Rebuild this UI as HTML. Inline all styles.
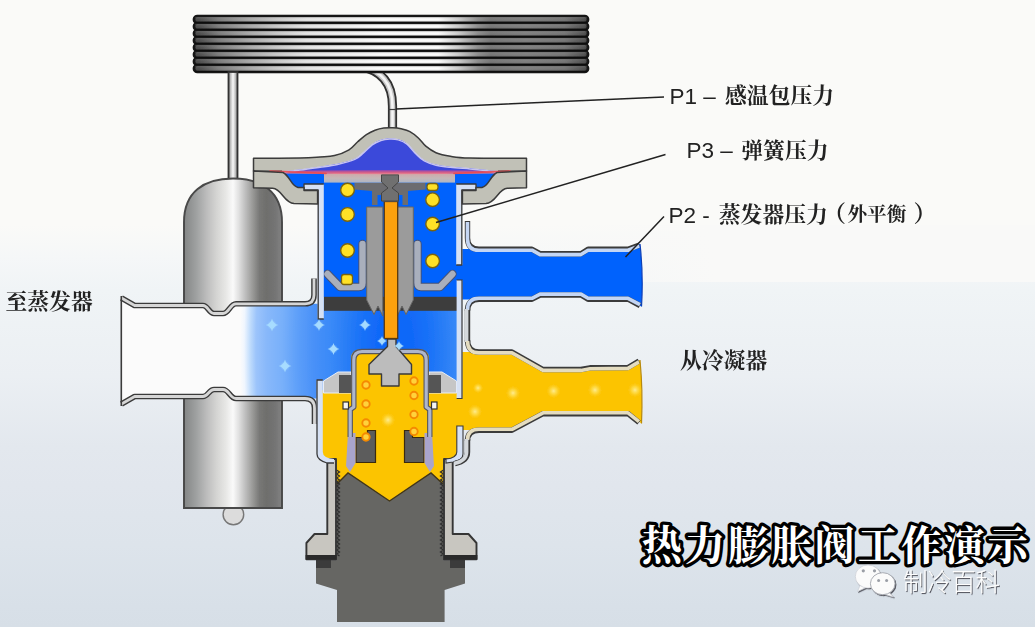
<!DOCTYPE html>
<html lang="zh"><head><meta charset="utf-8"><title>热力膨胀阀工作演示</title>
<style>
html,body{margin:0;padding:0;background:#fafaf8;}
#stage{position:relative;width:1035px;height:627px;overflow:hidden;
background:linear-gradient(to bottom,#fafaf8 0px,#fafaf8 225px,#f5f7f8 258px,#f0f4f6 290px,#ebeff3 376px,#e3e8ee 446px,#e1e6ed 486px,#dde4eb 545px,#d8e0e8 606px,#d7dfe7 627px);}
svg{position:absolute;left:0;top:0;display:block}
#lite{position:absolute;left:500px;top:225px;width:535px;height:57px;background:linear-gradient(to right,rgba(249,249,248,0) 0,rgba(249,249,248,1) 40%);}
</style></head><body>
<div id="stage">
<div id="lite"></div>
<svg width="1035" height="627" viewBox="0 0 1035 627">
<defs>
<linearGradient id="coilH" x1="0" x2="1" y1="0" y2="0">
<stop offset="0" stop-color="#4a4a4a"/><stop offset="0.02" stop-color="#565656"/><stop offset="0.064" stop-color="#808080"/><stop offset="0.137" stop-color="#aaaaaa"/>
<stop offset="0.21" stop-color="#cccccc"/><stop offset="0.285" stop-color="#e8e8e8"/><stop offset="0.384" stop-color="#f4f4f4"/><stop offset="0.48" stop-color="#ffffff"/>
<stop offset="0.62" stop-color="#ffffff"/><stop offset="0.67" stop-color="#d0d0d0"/><stop offset="0.72" stop-color="#909090"/><stop offset="0.753" stop-color="#787878"/>
<stop offset="0.842" stop-color="#828282"/><stop offset="0.94" stop-color="#787878"/><stop offset="0.99" stop-color="#555555"/><stop offset="1" stop-color="#444444"/>
</linearGradient>
<linearGradient id="tubeV" x1="0" x2="0" y1="0" y2="1">
<stop offset="0" stop-color="#000" stop-opacity="0.0"/><stop offset="0.2" stop-color="#fff" stop-opacity="0.15"/>
<stop offset="0.55" stop-color="#000" stop-opacity="0.0"/><stop offset="0.9" stop-color="#000" stop-opacity="0.18"/><stop offset="1" stop-color="#000" stop-opacity="0.18"/>
</linearGradient>
<pattern id="tubes" x="194" y="16" width="393" height="7" patternUnits="userSpaceOnUse">
<rect x="0" y="0" width="393" height="7" fill="url(#tubeV)"/>
</pattern>
<linearGradient id="bulbG" x1="0" x2="1" y1="0" y2="0">
<stop offset="0" stop-color="#848686"/><stop offset="0.04" stop-color="#8c8e8e"/><stop offset="0.13" stop-color="#a0a2a2"/><stop offset="0.23" stop-color="#bcbcbc"/>
<stop offset="0.33" stop-color="#d4d4d2"/><stop offset="0.43" stop-color="#e8e8e6"/><stop offset="0.50" stop-color="#fafafa"/><stop offset="0.56" stop-color="#e0e0e0"/>
<stop offset="0.63" stop-color="#bcbcbc"/><stop offset="0.70" stop-color="#9a9a98"/><stop offset="0.77" stop-color="#787876"/><stop offset="0.84" stop-color="#6e6e6c"/>
<stop offset="0.93" stop-color="#747474"/><stop offset="1" stop-color="#828282"/>
</linearGradient>
<linearGradient id="thinTube" x1="0" x2="1" y1="0" y2="0">
<stop offset="0" stop-color="#8a8a8a"/><stop offset="0.5" stop-color="#fafafa"/><stop offset="1" stop-color="#8a8a8a"/>
</linearGradient>
<radialGradient id="outG" gradientUnits="userSpaceOnUse" cx="0" cy="0" r="1" gradientTransform="translate(395 350) scale(155 420)">
<stop offset="0" stop-color="#0868fa"/><stop offset="0.11" stop-color="#1068f8"/><stop offset="0.226" stop-color="#1a72f8"/><stop offset="0.32" stop-color="#2a7ef6"/>
<stop offset="0.42" stop-color="#3a8af8"/><stop offset="0.52" stop-color="#4890f8"/><stop offset="0.626" stop-color="#5c9ef9"/><stop offset="0.73" stop-color="#78b0fa"/>
<stop offset="0.83" stop-color="#88b8fa"/><stop offset="0.897" stop-color="#9cc4fb"/><stop offset="0.935" stop-color="#c0dcfc"/><stop offset="0.974" stop-color="#f0f6fe"/><stop offset="1" stop-color="#fbfbfb"/>
</radialGradient>
<linearGradient id="diaG" x1="0" x2="0" y1="0" y2="1">
<stop offset="0" stop-color="#8a48b8"/><stop offset="0.5" stop-color="#d05a88"/><stop offset="1" stop-color="#ec8a92"/>
</linearGradient>
<linearGradient id="plateG" x1="0" x2="0" y1="0" y2="1"><stop offset="0" stop-color="#cfa9a9"/><stop offset="0.5" stop-color="#c4b8b8"/><stop offset="1" stop-color="#aeb6c6"/></linearGradient>
<radialGradient id="spark"><stop offset="0" stop-color="#fff" stop-opacity="0.95"/><stop offset="0.5" stop-color="#bfe4ff" stop-opacity="0.7"/><stop offset="1" stop-color="#8cc8ff" stop-opacity="0"/></radialGradient>
<radialGradient id="sparkY"><stop offset="0" stop-color="#fff0a0" stop-opacity="0.9"/><stop offset="0.5" stop-color="#ffe25a" stop-opacity="0.6"/><stop offset="1" stop-color="#ffd030" stop-opacity="0"/></radialGradient>
<filter id="ds" x="-10%" y="-10%" width="125%" height="130%"><feDropShadow dx="1" dy="1.1" stdDeviation="0.45" flood-color="#3c3c44" flood-opacity="0.85"/></filter>
<filter id="blur" x="-5%" y="-5%" width="110%" height="110%"><feGaussianBlur stdDeviation="0.45"/></filter>
</defs>
<g filter="url(#blur)">
<path d="M360 66.5 C380 70 392.5 82 392.5 106 L392.5 131" fill="none" stroke="#303030" stroke-width="9.2"/>
<path d="M360 66.5 C380 70 392.5 82 392.5 106 L392.5 131" fill="none" stroke="#c4c4c4" stroke-width="5.6"/>
<path d="M360 66.5 C380 70 392.5 82 392.5 106 L392.5 131" fill="none" stroke="#f4f4f4" stroke-width="2.6"/>
<path d="M388 109.5 L397 109.5" stroke="#3a3a3a" stroke-width="1.2"/>
<rect x="194" y="16" width="394" height="7" rx="3.3" fill="url(#coilH)" stroke="#141414" stroke-width="2.7"/>
<rect x="194" y="23" width="394" height="7" rx="3.3" fill="url(#coilH)" stroke="#141414" stroke-width="2.7"/>
<rect x="194" y="30" width="394" height="7" rx="3.3" fill="url(#coilH)" stroke="#141414" stroke-width="2.7"/>
<rect x="194" y="37" width="394" height="7" rx="3.3" fill="url(#coilH)" stroke="#141414" stroke-width="2.7"/>
<rect x="194" y="44" width="394" height="7" rx="3.3" fill="url(#coilH)" stroke="#141414" stroke-width="2.7"/>
<rect x="194" y="51" width="394" height="7" rx="3.3" fill="url(#coilH)" stroke="#141414" stroke-width="2.7"/>
<rect x="194" y="58" width="394" height="7" rx="3.3" fill="url(#coilH)" stroke="#141414" stroke-width="2.7"/>
<rect x="194" y="65" width="394" height="7" rx="3.3" fill="url(#coilH)" stroke="#141414" stroke-width="2.7"/>
<rect x="195" y="16" width="392" height="56" fill="url(#tubes)"/>
<rect x="228.5" y="72" width="9" height="110" fill="url(#thinTube)" stroke="#303030" stroke-width="1.8"/>
<circle cx="233.4" cy="514.5" r="10.3" fill="#dcdcdc" stroke="#777" stroke-width="1.4"/>
<path d="M184 508 V222 C184 192 204 178.5 233 178.5 C262 178.5 282 192 282 222 V508 Z" fill="url(#bulbG)" stroke="#484848" stroke-width="1.9"/>
<path d="M121.5 298 L134.6 305.5 L203 305.5 C208 305.5 209 313.5 214 313.5 L223 313.5 C229 313.5 230 303.8 236 303.8 L318 303.8 L318 297 L460 297 L460 392 L318 392 L318 398.5 L236 398.5 C230 398.5 229 389.5 223 389.5 L214 389.5 C209 389.5 208 396.5 203 396.5 L134.6 396.5 L121.5 404 Z" fill="#fcfcfb"/>
<path d="M121.5 298 L134.6 305.5 L203 305.5 C208 305.5 209 313.5 214 313.5 L223 313.5 C229 313.5 230 303.8 236 303.8 L318 303.8 L318 297 L460 297 L460 392 L318 392 L318 398.5 L236 398.5 C230 398.5 229 389.5 223 389.5 L214 389.5 C209 389.5 208 396.5 203 396.5 L134.6 396.5 L121.5 404 Z" fill="url(#outG)"/>
<path d="M121.5 298 L134.6 305.5 L203 305.5 C208 305.5 209 313.5 214 313.5 L223 313.5 C229 313.5 230 303.8 236 303.8 L305 303.8 Q314 303.8 314 295 L314 278.5" fill="none" stroke="#3a3a3a" stroke-width="5.6" stroke-linejoin="round"/>
<path d="M121.5 298 L134.6 305.5 L203 305.5 C208 305.5 209 313.5 214 313.5 L223 313.5 C229 313.5 230 303.8 236 303.8 L305 303.8 Q314 303.8 314 295 L314 278.5" fill="none" stroke="#d6d6d6" stroke-width="2.8" stroke-linejoin="round"/>
<path d="M121.5 404 L134.6 396.5 L203 396.5 C208 396.5 209 389.5 214 389.5 L223 389.5 C229 389.5 230 398.5 236 398.5 L305 398.5 Q314.5 398.5 314.5 408 L314.5 424" fill="none" stroke="#3a3a3a" stroke-width="5.6" stroke-linejoin="round"/>
<path d="M121.5 404 L134.6 396.5 L203 396.5 C208 396.5 209 389.5 214 389.5 L223 389.5 C229 389.5 230 398.5 236 398.5 L305 398.5 Q314.5 398.5 314.5 408 L314.5 424" fill="none" stroke="#d6d6d6" stroke-width="2.8" stroke-linejoin="round"/>
<path d="M121.3 296 L121.3 406" stroke="#3a3a3a" stroke-width="1.6"/>
<path d="M283 173 L497 173 L484 187.5 L461 189 L461 297 L320 297 L320 189 L296 187.5 Z" fill="#0062fd"/>
<path d="M321 392 L338 372 L351 372 L351 359 Q351 349.5 360 349.5 L420 349.5 Q429 349.5 429 359 L429 372 L442 372 L459 392 L459 455 L449 464 L449 486 L390 503 L331 486 L331 464 L321 455 Z" fill="#fcc403"/>
<path d="M460 249 L532 249 L540 253.5 L581 253.5 L588 249 L628 249 L640 244 Q643.5 275 641.5 306.5 L628 299.5 L588 299.5 L581 295.2 L540 295.2 L532 299.5 L460 299.5 Z" fill="#0062fd"/>
<path d="M458 352 L512 352 L543 369.5 L628 367.5 L640 360 Q643 391 641.5 423.5 L628 413.5 L543 413.5 L512 430 L458 430 Z" fill="#fcc403"/>
<path d="M337 484 L348 473 L389.5 501 L431 473 L443 484 L443.5 559 L465 559 L465 583.5 L444.6 590 L444.6 622 L337 622 L337 590 L316 583.5 L316 559 L336.5 559 Z" fill="#666664"/>
<path d="M337 484 L348 473 L389.5 501 L431 473 L443 484" fill="none" stroke="#40351a" stroke-width="1.4"/>
<rect x="316" y="559" width="15" height="9" fill="#3a3a3a"/><rect x="450" y="559" width="15" height="9" fill="#3a3a3a"/>
<path d="M336.5 470.0 L339.5 472.0 L336.5 474.0 L339.5 476.0 L336.5 478.0 L339.5 480.0 L336.5 482.0 L339.5 484.0 L336.5 486.0 L339.5 488.0 L336.5 490.0 L339.5 492.0 L336.5 494.0 L339.5 496.0 L336.5 498.0 L339.5 500.0 L336.5 502.0 L339.5 504.0 L336.5 506.0 L339.5 508.0 L336.5 510.0 L339.5 512.0 L336.5 514.0 L339.5 516.0 L336.5 518.0 L339.5 520.0 L336.5 522.0 L339.5 524.0 L336.5 526.0 L339.5 528.0 L336.5 530.0 L339.5 532.0 L336.5 534.0 L339.5 536.0 L336.5 538.0 L339.5 540.0 L336.5 542.0 L339.5 544.0 L336.5 546.0 L339.5 548.0 L336.5 550.0 L339.5 552.0 L336.5 554.0 L339.5 556.0" fill="none" stroke="#2e2e2e" stroke-width="1.3"/>
<path d="M443.5 470.0 L440.5 472.0 L443.5 474.0 L440.5 476.0 L443.5 478.0 L440.5 480.0 L443.5 482.0 L440.5 484.0 L443.5 486.0 L440.5 488.0 L443.5 490.0 L440.5 492.0 L443.5 494.0 L440.5 496.0 L443.5 498.0 L440.5 500.0 L443.5 502.0 L440.5 504.0 L443.5 506.0 L440.5 508.0 L443.5 510.0 L440.5 512.0 L443.5 514.0 L440.5 516.0 L443.5 518.0 L440.5 520.0 L443.5 522.0 L440.5 524.0 L443.5 526.0 L440.5 528.0 L443.5 530.0 L440.5 532.0 L443.5 534.0 L440.5 536.0 L443.5 538.0 L440.5 540.0 L443.5 542.0 L440.5 544.0 L443.5 546.0 L440.5 548.0 L443.5 550.0 L440.5 552.0 L443.5 554.0 L440.5 556.0" fill="none" stroke="#2e2e2e" stroke-width="1.3"/>
<path d="M327.3 459 L336 459 L336 559.3 L306.4 559.3 L306.4 543 L314.5 534 L327.3 534 Z" fill="#c8c6c0" stroke="#363636" stroke-width="1.9" stroke-linejoin="round"/>
<path d="M452.7 459 L444 459 L444 559.3 L476.5 559.3 L476.5 543 L468.5 534 L452.7 534 Z" fill="#c8c6c0" stroke="#363636" stroke-width="1.9" stroke-linejoin="round"/>
<rect x="305.6" y="555" width="31" height="4.6" fill="#2c2c2c"/><rect x="443.6" y="555" width="33.8" height="4.6" fill="#2c2c2c"/>
<path d="M356 437.5 L367.5 437.5 L367.5 430.5 L375.5 430.5 L375.5 462.5 L356 462.5 Z" fill="#5c5c5c" stroke="#3b2a10" stroke-width="1.2"/>
<path d="M424 437.5 L412.5 437.5 L412.5 430.5 L404.5 430.5 L404.5 462.5 L424 462.5 Z" fill="#5c5c5c" stroke="#3b2a10" stroke-width="1.2"/>
<path d="M348 433 L355.5 433 L355.5 463 L350 472 L346 466 Z" fill="#a9a4cc"/>
<path d="M432 433 L424.5 433 L424.5 463 L430 472 L434 466 Z" fill="#a9a4cc"/>
<path d="M323.5 393 L323.5 381 L338 372 L351 372 L351 393 Z" fill="#c6c6c6" stroke="#e8eef8" stroke-width="1"/>
<path d="M456.5 393 L456.5 381 L442 372 L429 372 L429 393 Z" fill="#c6c6c6" stroke="#e8eef8" stroke-width="1"/>
<rect x="339" y="375" width="12" height="18" fill="#555"/><rect x="429" y="375" width="12" height="18" fill="#555"/>
<path d="M350.2 437 L350.2 409.5 L353.8 407 L353.8 360 Q353.8 351.5 362 351.5 L418 351.5 Q426.2 351.5 426.2 360 L426.2 407 L429.8 409.5 L429.8 437" fill="none" stroke="#54545e" stroke-width="5.4" stroke-linejoin="round"/>
<path d="M350.2 437 L350.2 409.5 L353.8 407 L353.8 360 Q353.8 351.5 362 351.5 L418 351.5 Q426.2 351.5 426.2 360 L426.2 407 L429.8 409.5 L429.8 437" fill="none" stroke="#aeb6cc" stroke-width="3.2" stroke-linejoin="round"/>
<rect x="343" y="402" width="5.5" height="7" fill="#f4f4f4" stroke="#333" stroke-width="1.2"/><rect x="431.5" y="402" width="5.5" height="7" fill="#f4f4f4" stroke="#333" stroke-width="1.2"/>
<circle cx="366" cy="385" r="3.7" fill="#ffd23a" stroke="#f58a00" stroke-width="1.9"/>
<circle cx="366" cy="404" r="3.7" fill="#ffd23a" stroke="#f58a00" stroke-width="1.9"/>
<circle cx="366" cy="423" r="3.7" fill="#ffd23a" stroke="#f58a00" stroke-width="1.9"/>
<circle cx="414" cy="381" r="3.7" fill="#ffd23a" stroke="#f58a00" stroke-width="1.9"/>
<circle cx="414" cy="395.5" r="3.7" fill="#ffd23a" stroke="#f58a00" stroke-width="1.9"/>
<circle cx="414" cy="414.5" r="3.7" fill="#ffd23a" stroke="#f58a00" stroke-width="1.9"/>
<circle cx="414" cy="431.5" r="3.7" fill="#ffd23a" stroke="#f58a00" stroke-width="1.9"/>
<circle cx="366" cy="437" r="3.7" fill="#ffd23a" stroke="#f58a00" stroke-width="1.9"/>
<path d="M387.5 339 L396 339 L396 346.5 L411.5 364.5 L411.5 374 L399 374 L399 386 L381.5 386 L381.5 374 L369 374 L369 364.5 L387.5 346.5 Z" fill="#bcbcbc" stroke="#3a3a3a" stroke-width="1.4" stroke-linejoin="round"/>
<rect x="324" y="296.8" width="135" height="14" fill="#3c3c3c"/>
<path d="M327.5 274 L340 287 L359 287 Q362.5 287 362.5 283 L362.5 244" fill="none" stroke="#44527a" stroke-width="8.4" stroke-linejoin="round" stroke-linecap="round"/>
<path d="M327.5 274 L340 287 L359 287 Q362.5 287 362.5 283 L362.5 244" fill="none" stroke="#a9afbc" stroke-width="6.4" stroke-linejoin="round" stroke-linecap="round"/>
<path d="M452.5 274 L440 287 L421 287 Q417.5 287 417.5 283 L417.5 244" fill="none" stroke="#44527a" stroke-width="8.4" stroke-linejoin="round" stroke-linecap="round"/>
<path d="M452.5 274 L440 287 L421 287 Q417.5 287 417.5 283 L417.5 244" fill="none" stroke="#a9afbc" stroke-width="6.4" stroke-linejoin="round" stroke-linecap="round"/>
<path d="M366.7 207 L382.8 207 L382.8 316 L378 306 L374 314.5 L366.7 300 Z" fill="#9b9b9b" stroke="#666" stroke-width="1"/>
<path d="M413.3 207 L397.2 207 L397.2 316 L402 306 L406 314.5 L413.3 300 Z" fill="#9b9b9b" stroke="#666" stroke-width="1"/>
<rect x="384.3" y="201.5" width="13.4" height="137" fill="#fca10a" stroke="#5a3a10" stroke-width="1.3"/>
<path d="M354.5 182.5 L425.5 182.5 L425.5 189.5 L408 191 L408 205 L402.5 205 L402.5 195 L398 195 L398 201.5 L382 201.5 L382 195 L377.5 195 L377.5 205 L372 205 L372 191 L354.5 189.5 Z" fill="#6c6c70"/>
<rect x="324" y="174" width="131" height="8.6" fill="url(#plateG)"/>
<path d="M381.5 174.8 L398.5 174.8 L398.5 182 L392 188 L398.5 193 L398.5 201 L381.5 201 L381.5 193 L388 188 L381.5 182 Z" fill="#707070" stroke="#444" stroke-width="1"/>
<circle cx="347.5" cy="190" r="6.8" fill="#ffe126" stroke="#7a6410" stroke-width="1.4"/>
<circle cx="347.5" cy="214.4" r="6.8" fill="#ffe126" stroke="#7a6410" stroke-width="1.4"/>
<circle cx="347.5" cy="250.5" r="6.8" fill="#ffe126" stroke="#7a6410" stroke-width="1.4"/>
<circle cx="432.6" cy="199.7" r="6.8" fill="#ffe126" stroke="#7a6410" stroke-width="1.4"/>
<circle cx="432.6" cy="224" r="6.8" fill="#ffe126" stroke="#7a6410" stroke-width="1.4"/>
<circle cx="432.6" cy="261" r="6.8" fill="#ffe126" stroke="#7a6410" stroke-width="1.4"/>
<rect x="341.5" y="274.5" width="11" height="10" rx="2.5" fill="#ffe126" stroke="#7a6410" stroke-width="1.3"/>
<rect x="427" y="183.5" width="11" height="7" rx="3" fill="#ffe126" stroke="#7a6410" stroke-width="1.3"/>
<path d="M304 184 L323.8 184 L323.8 319 L317.6 319 L317.6 190 L304 190 Z" fill="#d6e1f4"/>
<path d="M323.8 184 L304 184 L304 190 L318.2 190 L318.2 319 L323.8 319" fill="none" stroke="#3a3a3a" stroke-width="1.3" stroke-linejoin="round"/>
<path d="M476 184 L456.2 184 L456.2 265 L462.4 265 L462.4 190 L476 190 Z" fill="#d6e1f4"/>
<path d="M456.2 184 L476 184 L476 190 L461.8 190 L461.8 265 L456.2 265" fill="none" stroke="#3a3a3a" stroke-width="1.3" stroke-linejoin="round"/>
<rect x="456.6" y="280" width="5.8" height="118.5" fill="#d6e1f4"/>
<path d="M456.6 280 L462 280 L462 398.5 L456.6 398.5" fill="none" stroke="#3a3a3a" stroke-width="1.2"/>
<path d="M456.8 426 L463 426 L463 454 Q463 460 453 462 L446 463 L446 459 Q456.8 458 456.8 452 Z" fill="#d6e1f4" stroke="#3a3a3a" stroke-width="1.1"/>
<path d="M316.5 380 L322.8 380 L322.8 452 Q322.8 458 334 459 L334 463 L327 463 Q316.5 460 316.5 454 Z" fill="#d6e1f4"/>
<path d="M322.8 380 L317 380 L317 454 Q317 460 327 463 L334 463" fill="none" stroke="#3a3a3a" stroke-width="1.3" stroke-linejoin="round"/>
<path d="M467.5 221 L467.5 238 Q467.5 249.3 479 249.3 L532 249.3 L540 253.7 L581 253.7 L588 249.3 L628 249.3 L639.5 245" fill="none" stroke="#3a3a3a" stroke-width="5.4" stroke-linejoin="round"/>
<path d="M640 305.5 L628 299.2 L588 299.2 L581 295 L540 295 L532 299.2 L479 299.2 Q467.5 299.2 467.5 311" fill="none" stroke="#3a3a3a" stroke-width="5.4" stroke-linejoin="round"/>
<path d="M467.5 309 L467.5 342" fill="none" stroke="#3a3a3a" stroke-width="5.4" stroke-linejoin="round"/>
<path d="M467.5 340 Q467.5 352 479 352 L512 352 L543 369.5 L581 369.5 L590 367.8 L628 367.5 L639 361" fill="none" stroke="#3a3a3a" stroke-width="5.4" stroke-linejoin="round"/>
<path d="M639 422.5 L628 413.7 L543 413.7 L512 430.2 L479 430.2 Q467.5 430.2 467.5 441" fill="none" stroke="#3a3a3a" stroke-width="5.4" stroke-linejoin="round"/>
<path d="M467.5 439 L467.5 452 Q467.5 461 455 463.5" fill="none" stroke="#3a3a3a" stroke-width="5.4" stroke-linejoin="round"/>
<path d="M467.5 221 L467.5 238 Q467.5 249.3 479 249.3 L532 249.3 L540 253.7 L581 253.7 L588 249.3 L628 249.3 L639.5 245" transform="translate(0 0.9)" fill="none" stroke="#c4d6f4" stroke-width="3.6" stroke-linejoin="round"/>
<path d="M640 305.5 L628 299.2 L588 299.2 L581 295 L540 295 L532 299.2 L479 299.2 Q467.5 299.2 467.5 311" transform="translate(0 -0.9)" fill="none" stroke="#c4d6f4" stroke-width="3.6" stroke-linejoin="round"/>
<path d="M467.5 309 L467.5 342" transform="translate(-0.9 0)" fill="none" stroke="#d4d8dc" stroke-width="3.6" stroke-linejoin="round"/>
<path d="M467.5 340 Q467.5 352 479 352 L512 352 L543 369.5 L581 369.5 L590 367.8 L628 367.5 L639 361" transform="translate(0 0.9)" fill="none" stroke="#e4dcc0" stroke-width="3.6" stroke-linejoin="round"/>
<path d="M639 422.5 L628 413.7 L543 413.7 L512 430.2 L479 430.2 Q467.5 430.2 467.5 441" transform="translate(0 -0.9)" fill="none" stroke="#e4dcc0" stroke-width="3.6" stroke-linejoin="round"/>
<path d="M467.5 439 L467.5 452 Q467.5 461 455 463.5" transform="translate(-0.9 0)" fill="none" stroke="#d4d8dc" stroke-width="3.6" stroke-linejoin="round"/>
<path d="M640 244 Q643.5 275 641.5 306.5" fill="none" stroke="#0d3fb4" stroke-width="1.2"/>
<path d="M640 360 Q643 391 641.5 423.5" fill="none" stroke="#b88a10" stroke-width="1.2"/>
<path d="M282 171.3 C285.0 171.0 293.7 170.0 300 169.2 C306.3 168.4 313.8 167.3 320 166.4 C326.2 165.5 331.6 164.9 337.4 163.6 C343.2 162.3 350.4 160.4 354.8 158.5 C359.2 156.6 360.6 154.4 363.5 152 C366.4 149.6 369.3 146.1 372.2 144 C375.1 141.9 378.0 140.6 380.9 139.6 C383.8 138.6 386.7 138.3 389.6 138.2 C392.5 138.1 395.4 138.2 398.3 139 C401.2 139.8 404.1 141.0 407 143.3 C409.9 145.6 412.8 149.9 415.7 152.7 C418.6 155.5 420.9 158.1 424.3 160 C427.7 161.9 431.6 163.2 436 164.3 C440.4 165.4 444.7 165.8 450.4 166.4 C456.1 167.0 464.2 167.5 470 168 C475.8 168.5 480.3 169.0 485 169.6 C489.7 170.2 495.8 171.0 498 171.3 L498 171.3 Q390 173.2 282 171.3 Z" fill="#3b48da"/>
<path d="M272 170.8 L283 170.6 Q390 169.6 497 170.6 L508 170.8 L497 173.6 Q390 175 283 173.6 Z" fill="url(#diaG)"/>
<path d="M253.5 158.3 C261.2 158.2 288.9 158.2 300 158 C311.1 157.8 314.2 157.4 320 157 C325.8 156.6 329.7 156.8 334.5 155.6 C339.3 154.4 345.1 152.1 349 149.8 C352.9 147.5 354.8 144.3 357.7 141.8 C360.6 139.3 363.5 136.5 366.4 134.6 C369.3 132.7 372.1 131.3 375 130.2 C377.9 129.1 380.9 128.4 383.8 128 C386.7 127.6 389.6 127.6 392.5 127.7 C395.4 127.8 398.3 128.1 401.2 128.8 C404.1 129.5 407.0 130.1 409.9 131.7 C412.8 133.3 416.0 135.8 418.6 138.2 C421.2 140.6 422.9 143.8 425.8 146.2 C428.7 148.6 431.9 151.0 436 152.7 C440.1 154.4 444.7 155.4 450.4 156.3 C456.1 157.2 457.3 157.7 470 158 C482.7 158.3 517.1 158.2 526.5 158.3 L526.5 171 L498 171.3 C495.8 171.0 489.7 170.2 485 169.6 C480.3 169.0 475.8 168.5 470 168 C464.2 167.5 456.1 167.0 450.4 166.4 C444.7 165.8 440.4 165.4 436 164.3 C431.6 163.2 427.7 161.9 424.3 160 C420.9 158.1 418.6 155.5 415.7 152.7 C412.8 149.9 409.9 145.6 407 143.3 C404.1 141.0 401.2 139.8 398.3 139 C395.4 138.2 392.5 138.1 389.6 138.2 C386.7 138.3 383.8 138.6 380.9 139.6 C378.0 140.6 375.1 141.9 372.2 144 C369.3 146.1 366.4 149.6 363.5 152 C360.6 154.4 359.2 156.6 354.8 158.5 C350.4 160.4 343.2 162.3 337.4 163.6 C331.6 164.9 326.2 165.5 320 166.4 C313.8 167.3 306.3 168.4 300 169.2 C293.7 170.0 285.0 171.0 282 171.3 L253.5 171 Z" fill="#c1c1b7"/>
<path d="M282 171.2 L253.5 171 L253.5 158.3 C261.2 158.2 288.9 158.2 300 158 C311.1 157.8 314.2 157.4 320 157 C325.8 156.6 329.7 156.8 334.5 155.6 C339.3 154.4 345.1 152.1 349 149.8 C352.9 147.5 354.8 144.3 357.7 141.8 C360.6 139.3 363.5 136.5 366.4 134.6 C369.3 132.7 372.1 131.3 375 130.2 C377.9 129.1 380.9 128.4 383.8 128 C386.7 127.6 389.6 127.6 392.5 127.7 C395.4 127.8 398.3 128.1 401.2 128.8 C404.1 129.5 407.0 130.1 409.9 131.7 C412.8 133.3 416.0 135.8 418.6 138.2 C421.2 140.6 422.9 143.8 425.8 146.2 C428.7 148.6 431.9 151.0 436 152.7 C440.1 154.4 444.7 155.4 450.4 156.3 C456.1 157.2 457.3 157.7 470 158 C482.7 158.3 517.1 158.2 526.5 158.3 L526.5 171 L498 171.2" fill="none" stroke="#3a3a3a" stroke-width="1.5" stroke-linejoin="round"/>
<path d="M282 172.20000000000002 C285.0 171.9 293.7 170.9 300 170.1 C306.3 169.3 313.8 168.2 320 167.3 C326.2 166.4 331.6 165.8 337.4 164.5 C343.2 163.2 350.4 161.3 354.8 159.4 C359.2 157.5 360.6 155.3 363.5 152.9 C366.4 150.5 369.3 147.0 372.2 144.9 C375.1 142.8 378.0 141.5 380.9 140.5 C383.8 139.5 386.7 139.2 389.6 139.1 C392.5 139.0 395.4 139.1 398.3 139.9 C401.2 140.8 404.1 141.9 407 144.20000000000002 C409.9 146.5 412.8 150.8 415.7 153.6 C418.6 156.4 420.9 159.0 424.3 160.9 C427.7 162.8 431.6 164.1 436 165.20000000000002 C440.4 166.3 444.7 166.7 450.4 167.3 C456.1 167.9 464.2 168.4 470 168.9 C475.8 169.4 480.3 169.9 485 170.5 C489.7 171.1 495.8 171.9 498 172.20000000000002" fill="none" stroke="#cfcbf2" stroke-width="1.5" opacity="0.95"/>
<path d="M270 171 L326 173.4 M510 171 L454 173.4" fill="none" stroke="#ea4a50" stroke-width="1.7" stroke-linecap="round" opacity="0.9"/>
<path d="M253.5 171 L283 172.5 C290 176 291 186 298 187.5 L304 187.5 L304 190.5 L317.6 190.5 L317.6 204 L294 203.5 C284 203 282 189 272.7 188.3 L253.5 187.8 Z" fill="#c1c1b7" stroke="#3a3a3a" stroke-width="1.5" stroke-linejoin="round"/>
<path d="M526.5 171 L497 172.5 C490 176 489 186 482 187.5 L476 187.5 L476 190.5 L462.4 190.5 L462.4 204 L486 203.5 C496 203 498 189 507.3 188.3 L526.5 187.8 Z" fill="#c1c1b7" stroke="#3a3a3a" stroke-width="1.5" stroke-linejoin="round"/>
<circle cx="272" cy="325" r="5.2" fill="url(#spark)" opacity="0.7"/>
<path d="M272 318.5 Q273.2 323.8 278.5 325 Q273.2 326.2 272 331.5 Q270.8 326.2 265.5 325 Q270.8 323.8 272 318.5 Z" fill="#a6dcff" opacity="0.95"/>
<circle cx="319" cy="325" r="4.800000000000001" fill="url(#spark)" opacity="0.7"/>
<path d="M319 319 Q320.1 323.9 325 325 Q320.1 326.1 319 331 Q317.9 326.1 313 325 Q317.9 323.9 319 319 Z" fill="#a6dcff" opacity="0.95"/>
<circle cx="365" cy="325" r="4.800000000000001" fill="url(#spark)" opacity="0.7"/>
<path d="M365 319 Q366.1 323.9 371 325 Q366.1 326.1 365 331 Q363.9 326.1 359 325 Q363.9 323.9 365 319 Z" fill="#a6dcff" opacity="0.95"/>
<circle cx="333.5" cy="349" r="4.800000000000001" fill="url(#spark)" opacity="0.7"/>
<path d="M333.5 343 Q334.6 347.9 339.5 349 Q334.6 350.1 333.5 355 Q332.4 350.1 327.5 349 Q332.4 347.9 333.5 343 Z" fill="#a6dcff" opacity="0.95"/>
<circle cx="285" cy="366" r="5.2" fill="url(#spark)" opacity="0.7"/>
<path d="M285 359.5 Q286.2 364.8 291.5 366 Q286.2 367.2 285 372.5 Q283.8 367.2 278.5 366 Q283.8 364.8 285 359.5 Z" fill="#a6dcff" opacity="0.95"/>
<circle cx="382" cy="341" r="4.0" fill="url(#spark)" opacity="0.7"/>
<path d="M382 336 Q382.9 340.1 387 341 Q382.9 341.9 382 346 Q381.1 341.9 377 341 Q381.1 340.1 382 336 Z" fill="#a6dcff" opacity="0.95"/>
<circle cx="399" cy="346" r="4.0" fill="url(#spark)" opacity="0.7"/>
<path d="M399 341 Q399.9 345.1 404 346 Q399.9 346.9 399 351 Q398.1 346.9 394 346 Q398.1 345.1 399 341 Z" fill="#a6dcff" opacity="0.95"/>
<circle cx="513" cy="393" r="7" fill="url(#sparkY)"/>
<circle cx="553.6" cy="391" r="7" fill="url(#sparkY)"/>
<circle cx="595" cy="390" r="7" fill="url(#sparkY)"/>
<circle cx="635" cy="390" r="7" fill="url(#sparkY)"/>
<circle cx="475" cy="411.6" r="7" fill="url(#sparkY)"/>
<circle cx="388" cy="420" r="7" fill="url(#sparkY)"/>
<circle cx="478" cy="388" r="5" fill="url(#sparkY)"/>
<path d="M396 109 L664 97 M436 222.5 L665.5 154.5 M625.5 257 L664 216.5" stroke="#222" stroke-width="1.5" fill="none"/>
</g>
<g filter="url(#blur)" fill="#222">
<text x="669.5" y="103.6" font-family='"Liberation Sans","Noto Serif CJK SC",sans-serif' font-size="22.5">P1 –</text><text x="725" y="103" font-family='"Liberation Serif","Noto Serif CJK SC",serif' font-size="21.8" font-weight="700">感温包压力</text>
<text x="686.5" y="158.4" font-family='"Liberation Sans","Noto Serif CJK SC",sans-serif' font-size="22.5">P3 –</text><text x="741.3" y="158" font-family='"Liberation Serif","Noto Serif CJK SC",serif' font-size="21.8" font-weight="700">弹簧压力</text>
<text x="668.5" y="222.6" font-family='"Liberation Sans","Noto Serif CJK SC",sans-serif' font-size="22.5">P2 -</text><text x="718.8" y="222" font-family='"Liberation Serif","Noto Serif CJK SC",serif' font-size="21.8" font-weight="700">蒸发器压力</text><text x="823" y="221.5" font-family='"Liberation Serif","Noto Serif CJK SC",serif' font-size="23" font-weight="700">（</text><text x="847.5" y="221" font-family='"Liberation Serif","Noto Serif CJK SC",serif' font-size="19.6" font-weight="700">外平衡</text><text x="913.5" y="221.5" font-family='"Liberation Serif","Noto Serif CJK SC",serif' font-size="23" font-weight="700">）</text>
<text x="5.5" y="309" font-family='"Liberation Serif","Noto Serif CJK SC",serif' font-size="21.8" font-weight="700">至蒸发器</text>
<text x="680" y="367.8" font-family='"Liberation Serif","Noto Serif CJK SC",serif' font-size="21.8" font-weight="700">从冷凝器</text>
</g>
<text x="641.5" y="559.5" font-family='"Liberation Serif","Noto Serif CJK SC",serif' font-size="40.5" font-weight="700" fill="#fff" stroke="#000" stroke-width="6.6" stroke-linejoin="round" paint-order="stroke" textLength="386.5" lengthAdjust="spacing">热力膨胀阀工作演示</text>
<g filter="url(#ds)"><g fill="#fbfbfb" stroke="#c4c8d0" stroke-width="0.6">
<path d="M860 585.5 L857.5 591.5 L866 587.5 Z"/><ellipse cx="868" cy="576.5" rx="12.7" ry="11.5"/>
<path d="M889 592.5 L893.5 597 L885 594.5 Z"/><ellipse cx="882.7" cy="583.7" rx="12.3" ry="11" stroke="#a0a4ac" stroke-width="0.9"/>
</g>
<g fill="#9a9ea6" filter="none"><circle cx="863.3" cy="570.8" r="1.6"/><circle cx="874.5" cy="570.8" r="1.6"/><circle cx="878.6" cy="580.6" r="1.5"/><circle cx="886.6" cy="580.6" r="1.5"/></g></g>
<text x="903" y="590.5" font-family='"Liberation Sans","Noto Sans CJK SC",sans-serif' font-size="24.5" font-weight="300" fill="#fdfdfd" filter="url(#ds)" textLength="97" lengthAdjust="spacing">制冷百科</text>
</svg>
</div>
</body></html>
